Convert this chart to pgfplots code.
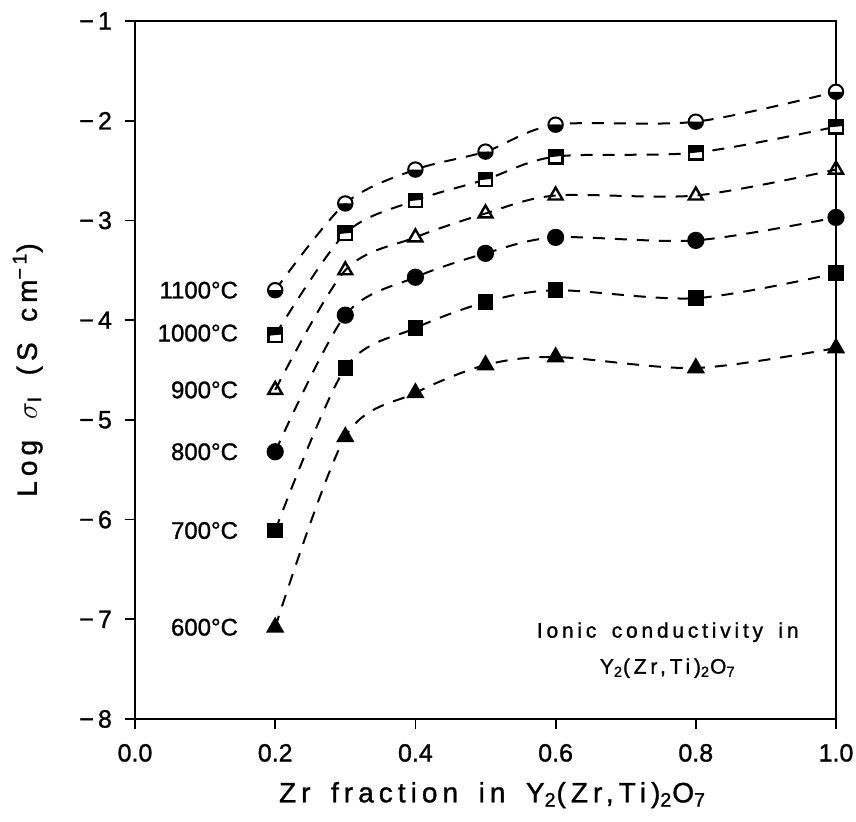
\documentclass[border=0pt]{standalone}
\usepackage{fontspec}
\setmainfont{Liberation Sans}[FakeBold=1.2]
\newfontfamily\widefont{Liberation Sans}[LetterSpace=18,WordSpace=1.6,FakeBold=1.2]
\usepackage{pgfplots}
\pgfplotsset{compat=1.18}
\usetikzlibrary{plotmarks}
\makeatletter
\pgfdeclareplotmark{halfsq*}{%
  \pgfpathrectangle{\pgfpoint{-\pgfplotmarksize}{-\pgfplotmarksize}}{\pgfpoint{2\pgfplotmarksize}{2\pgfplotmarksize}}%
  \pgfusepathqfill
  \begin{pgfscope}%
  \pgfpathmoveto{\pgfpoint{-\pgfplotmarksize}{-0.1\pgfplotmarksize}}%
  \pgfpathlineto{\pgfpoint{-\pgfplotmarksize}{\pgfplotmarksize}}%
  \pgfpathlineto{\pgfpoint{\pgfplotmarksize}{\pgfplotmarksize}}%
  \pgfpathlineto{\pgfpoint{\pgfplotmarksize}{0.1\pgfplotmarksize}}%
  \pgfpathclose
  \pgfsetfillcolor{black}%
  \pgfusepathqfill
  \end{pgfscope}%
  \pgfpathrectangle{\pgfpoint{-\pgfplotmarksize}{-\pgfplotmarksize}}{\pgfpoint{2\pgfplotmarksize}{2\pgfplotmarksize}}%
  \pgfusepathqstroke
}
\makeatother
\pgfplotstableread{
x y1100 y1000 y900 y800 y700 y600
0.2 -3.70 -4.15 -4.70 -5.32 -6.11 -7.08
0.3 -2.83 -3.13 -3.50 -3.95 -4.48 -5.17
0.4 -2.49 -2.80 -3.17 -3.57 -4.08 -4.73
0.5 -2.31 -2.59 -2.93 -3.33 -3.82 -4.45
0.6 -2.04 -2.36 -2.75 -3.17 -3.70 -4.37
0.8 -2.01 -2.32 -2.75 -3.20 -3.78 -4.48
1.0 -1.71 -2.06 -2.49 -2.97 -3.53 -4.28
}\datatable
\begin{document}
\begin{tikzpicture}
\begin{axis}[
  scale only axis,
  width=350.5pt, height=349pt,
  xmin=0, xmax=1, ymin=-8, ymax=-1,
  axis line style={line width=1.1pt},
  xtick pos=bottom, ytick pos=left,
  tick align=outside, tick style={line width=0.9pt, black},
  major tick length=5pt,
  xtick={0,0.2,0.4,0.6,0.8,1.0},
  xticklabels={0.0,0.2,0.4,0.6,0.8,1.0},
  ytick={-8,-7,-6,-5,-4,-3,-2,-1},
  yticklabels={−\,8,−\,7,−\,6,−\,5,−\,4,−\,3,−\,2,−\,1},
  ticklabel style={font=\fontsize{12.5}{14}\selectfont},
  xticklabel style={yshift=-4pt},
  yticklabel style={xshift=-3pt},
  xlabel={\widefont Zr fraction in Y\textsubscript{2}(Zr,Ti)\textsubscript{2}O\textsubscript{7}},
  ylabel={\widefont Log $\sigma$\textsubscript{I} (S cm\textsuperscript{−1})},
  label style={font=\fontsize{14}{16}\selectfont},
  xlabel style={at={(axis description cs:0.51,-0.109)}, anchor=center},
  ylabel style={at={(axis description cs:-0.153,0.5)}, anchor=center},
  clip=false,
]
\pgfplotsset{curve/.style={black, line width=1pt, dash pattern=on 6pt off 5pt, smooth, tension=0.5}}
\addplot[curve, mark=halfcircle*, mark size=3.6pt, mark options={solid, fill=white, draw=black, mark color=black}] table[x=x,y=y1100] {\datatable};
\addplot[curve, mark=halfsq*, mark size=3.4pt, mark options={solid, fill=white, draw=black, line width=1.1pt}] table[x=x,y=y1000] {\datatable};
\addplot[curve, mark=triangle, mark size=4pt, mark options={solid, fill=white, draw=black, line width=1.2pt}] table[x=x,y=y900] {\datatable};
\addplot[curve, mark=*, mark size=3.8pt, mark options={solid, fill=black, draw=black}] table[x=x,y=y800] {\datatable};
\addplot[curve, mark=square*, mark size=3.4pt, mark options={solid, fill=black, draw=black}] table[x=x,y=y700] {\datatable};
\addplot[curve, mark=triangle*, mark size=4.3pt, mark options={solid, fill=black, draw=black}] table[x=x,y=y600] {\datatable};
\begin{scope}[font=\fontsize{12}{14}\selectfont]
\node[anchor=east] at (axis cs:0.157,-3.70) {1100°C};
\node[anchor=east] at (axis cs:0.157,-4.13) {1000°C};
\node[anchor=east] at (axis cs:0.157,-4.70) {900°C};
\node[anchor=east] at (axis cs:0.157,-5.32) {800°C};
\node[anchor=east] at (axis cs:0.157,-6.11) {700°C};
\node[anchor=east] at (axis cs:0.157,-7.08) {600°C};
\end{scope}
\node[align=center, font={\widefont\fontsize{10.5}{18}\selectfont}] at (axis cs:0.76,-7.31) {Ionic conductivity in\\Y\textsubscript{2}(Zr,Ti)\textsubscript{2}O\textsubscript{7}};
\end{axis}
\pgfresetboundingbox
\path (current axis.south west) ++(-67.5pt,-51.5pt) coordinate (bl);
\path (current axis.north east) ++(10pt,10.5pt) coordinate (tr);
\path (bl) rectangle (tr);
\end{tikzpicture}
\end{document}
